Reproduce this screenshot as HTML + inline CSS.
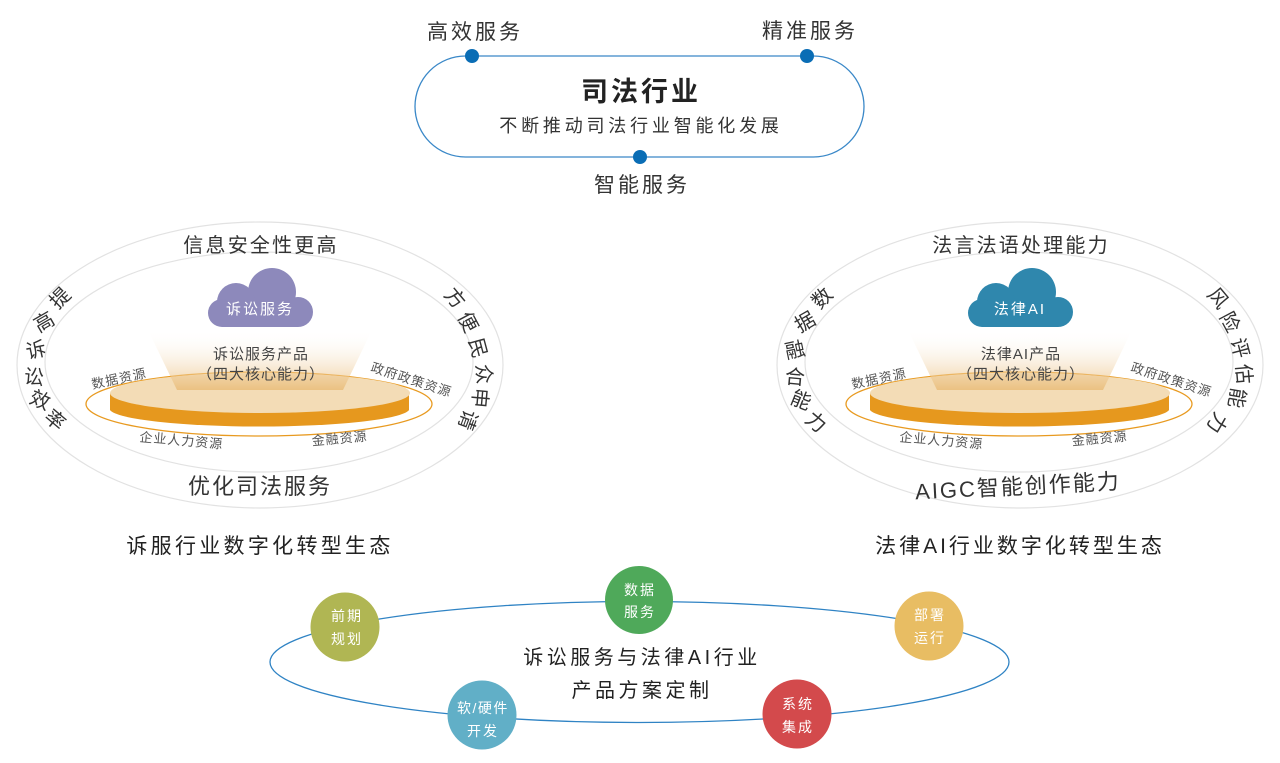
<!DOCTYPE html>
<html><head><meta charset="utf-8"><style>
body{margin:0;background:#fff;}
svg{display:block;font-family:"Liberation Sans","Noto Sans CJK SC",sans-serif;}
</style></head><body>
<svg width="1280" height="763" viewBox="0 0 1280 763" xmlns="http://www.w3.org/2000/svg">
<defs>
<linearGradient id="beam" x1="0" y1="0" x2="0" y2="1">
<stop offset="0" stop-color="#fff" stop-opacity="0"/>
<stop offset="1" stop-color="#e8b870" stop-opacity="0.75"/>
</linearGradient>
<g id="eco">
<ellipse cx="260" cy="365" rx="243" ry="143" fill="none" stroke="#e2e2e2" stroke-width="1.2"/>
<ellipse cx="259" cy="362" rx="214" ry="110" fill="none" stroke="#e2e2e2" stroke-width="1.2"/>
<ellipse cx="259" cy="404" rx="173" ry="32" fill="none" stroke="#e89a20" stroke-width="1.3"/>
<path d="M110 393 L110 410 A150 18 0 0 0 409 410 L409 393 Z" fill="#e6981e"/>
<ellipse cx="260" cy="393" rx="150" ry="20" fill="#f3dcb6"/>
<polygon points="148,330 372,330 343,390 177,390" fill="url(#beam)"/>
<text x="120" y="383" font-size="13" fill="#555" transform="rotate(-12 120 383)" text-anchor="middle" letter-spacing="1">数据资源</text>
<text x="410" y="384" font-size="13" fill="#555" transform="rotate(18 410 384)" text-anchor="middle" letter-spacing="1">政府政策资源</text>
<text x="181" y="445" font-size="13" fill="#555" transform="rotate(5 181 445)" text-anchor="middle" letter-spacing="1">企业人力资源</text>
<text x="340" y="443" font-size="13" fill="#555" transform="rotate(-5 340 443)" text-anchor="middle" letter-spacing="1">金融资源</text>
</g>
</defs>

<!-- top -->
<rect x="415" y="56" width="449" height="101" rx="50.5" fill="none" stroke="#3a88c8" stroke-width="1.3"/>
<circle cx="472" cy="56" r="7" fill="#0a6db5"/>
<circle cx="807" cy="56" r="7" fill="#0a6db5"/>
<circle cx="640" cy="157" r="7" fill="#0a6db5"/>
<g font-size="21" fill="#333" text-anchor="middle" letter-spacing="3">
<text x="475" y="39">高效服务</text>
<text x="810" y="38">精准服务</text>
<text x="642" y="192">智能服务</text>
</g>
<text x="641" y="101" font-size="27" font-weight="bold" fill="#222" text-anchor="middle" letter-spacing="3">司法行业</text>
<text x="641" y="132" font-size="18" fill="#333" text-anchor="middle" letter-spacing="3.8">不断推动司法行业智能化发展</text>

<!-- left eco -->
<use href="#eco"/>
<g fill="#8d89bb">
<circle cx="272" cy="292" r="24"/><circle cx="236" cy="302" r="19"/>
<circle cx="298" cy="312" r="15"/><circle cx="222" cy="313" r="14"/>
<rect x="222" y="305" width="76" height="22"/>
</g>
<text x="260" y="314" font-size="15" fill="#fff" text-anchor="middle" letter-spacing="2">诉讼服务</text>
<text x="261" y="359" font-size="15" fill="#444" text-anchor="middle" letter-spacing="1">诉讼服务产品</text>
<text x="261" y="379" font-size="15" fill="#444" text-anchor="middle" letter-spacing="1">（四大核心能力）</text>
<text x="261" y="252" font-size="20" fill="#333" text-anchor="middle" letter-spacing="2.2">信息安全性更高</text>
<text x="260" y="494" font-size="22" fill="#333" text-anchor="middle" letter-spacing="2">优化司法服务</text>
<g font-size="20" fill="#333" text-anchor="middle">
<text x="60" y="305" transform="rotate(-45 60 298)">提</text>
<text x="44" y="329" transform="rotate(-30 44 322)">高</text>
<text x="36" y="357" transform="rotate(-12 36 350)">诉</text>
<text x="34" y="384" transform="rotate(5 34 377)">讼</text>
<text x="40" y="407" transform="rotate(22 40 400)">效</text>
<text x="55" y="427" transform="rotate(40 55 420)">率</text>
<text x="455" y="305" transform="rotate(50 455 298)">方</text>
<text x="468" y="329" transform="rotate(62 468 322)">便</text>
<text x="478" y="355" transform="rotate(75 478 348)">民</text>
<text x="484" y="381" transform="rotate(85 484 374)">众</text>
<text x="480" y="405" transform="rotate(95 480 398)">申</text>
<text x="468" y="427" transform="rotate(110 468 420)">请</text>
</g>
<text x="260" y="553" font-size="21" fill="#222" text-anchor="middle" letter-spacing="3.3">诉服行业数字化转型生态</text>

<!-- right eco -->
<use href="#eco" transform="translate(760 0)"/>
<g fill="#2f87ad">
<circle cx="1032" cy="292" r="24"/><circle cx="996" cy="302" r="19"/>
<circle cx="1058" cy="312" r="15"/><circle cx="982" cy="313" r="14"/>
<rect x="982" y="305" width="76" height="22"/>
</g>
<text x="1020" y="314" font-size="15" fill="#fff" text-anchor="middle" letter-spacing="2">法律AI</text>
<text x="1021" y="359" font-size="15" fill="#444" text-anchor="middle" letter-spacing="1">法律AI产品</text>
<text x="1021" y="379" font-size="15" fill="#444" text-anchor="middle" letter-spacing="1">（四大核心能力）</text>
<text x="1021" y="252" font-size="20" fill="#333" text-anchor="middle" letter-spacing="2.2">法言法语处理能力</text>
<text x="1018" y="494" font-size="22" fill="#333" text-anchor="middle" letter-spacing="2" transform="rotate(-3 1018 488)">AIGC智能创作能力</text>
<g font-size="20" fill="#333" text-anchor="middle">
<text x="822" y="305" transform="rotate(-45 822 298)">数</text>
<text x="805" y="329" transform="rotate(-30 805 322)">据</text>
<text x="795" y="357" transform="rotate(-12 795 350)">融</text>
<text x="795" y="384" transform="rotate(5 795 377)">合</text>
<text x="801" y="407" transform="rotate(22 801 400)">能</text>
<text x="816" y="429" transform="rotate(40 816 422)">力</text>
<text x="1218" y="305" transform="rotate(50 1218 298)">风</text>
<text x="1230" y="329" transform="rotate(62 1230 322)">险</text>
<text x="1240" y="355" transform="rotate(75 1240 348)">评</text>
<text x="1244" y="381" transform="rotate(85 1244 374)">估</text>
<text x="1237" y="405" transform="rotate(100 1237 398)">能</text>
<text x="1217" y="430" transform="rotate(120 1217 423)">力</text>
</g>
<text x="1020" y="553" font-size="21" fill="#222" text-anchor="middle" letter-spacing="3">法律AI行业数字化转型生态</text>

<!-- bottom -->
<ellipse cx="639.5" cy="662" rx="369.5" ry="60.5" fill="none" stroke="#2f83c4" stroke-width="1.3"/>
<text x="642" y="664" font-size="20" fill="#222" text-anchor="middle" letter-spacing="3.5">诉讼服务与法律AI行业</text>
<text x="642" y="697" font-size="20" fill="#222" text-anchor="middle" letter-spacing="3.5">产品方案定制</text>
<g font-size="14" fill="#fff" text-anchor="middle" letter-spacing="2">
<circle cx="639" cy="600" r="34" fill="#4fa95a"/>
<text x="640" y="595">数据</text><text x="640" y="617">服务</text>
<circle cx="345" cy="627" r="34.5" fill="#b0b653"/>
<text x="347" y="621">前期</text><text x="347" y="644">规划</text>
<circle cx="929" cy="626" r="34.5" fill="#e8bd63"/>
<text x="930" y="620">部署</text><text x="930" y="643">运行</text>
<circle cx="482" cy="715" r="34.5" fill="#61afc7"/>
<text x="483" y="713" letter-spacing="1.5">软/硬件</text><text x="483" y="736">开发</text>
<circle cx="797" cy="714" r="34.5" fill="#d34a4c"/>
<text x="798" y="709">系统</text><text x="798" y="732">集成</text>
</g>
</svg>
</body></html>
